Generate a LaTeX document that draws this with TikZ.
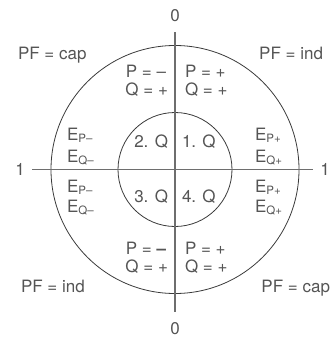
\documentclass[tikz,border=0pt]{standalone}
\usepackage{fontspec}
\setmainfont{TeX Gyre Heros}
\definecolor{txt}{HTML}{555555}
\definecolor{circ}{HTML}{3A3A3A}
\definecolor{axis}{HTML}{6E6E6E}
\newcommand{\mysub}[1]{\raisebox{-0.25ex}{\fontsize{11.5}{12}\selectfont #1}}
\begin{document}
\begin{tikzpicture}[x=1pt,y=-1pt,
  lbl/.style={inner sep=0pt,outer sep=0pt,text=txt,font=\fontsize{17}{20}\selectfont},
  ring/.style={draw=circ,line width=0.8pt,circle,inner sep=0pt},
  axisline/.style={draw=axis,line width=1.1pt}]
\useasboundingbox (0,0) rectangle (331,338);
\coordinate (O) at (175,169.5);
\node[ring,minimum size=248pt] (outer) at (O) {};
\node[ring,minimum size=114pt] (inner) at (O) {};
\coordinate (top) at (175,32);
\coordinate (bot) at (175,312);
\coordinate (lft) at (32,169.5);
\coordinate (rgt) at (313,169.5);
\draw[axisline] (top) -- (bot);
\draw[axisline] (lft) -- (rgt);
% axis labels
\node[lbl,anchor=base] (z1) at (175,21) {0};
\node[lbl,anchor=base] (z2) at (175,334.5) {0};
\node[lbl,anchor=base] (o1) at (20,175) {1};
\node[lbl,anchor=base] (o2) at (325,175) {1};
% PF labels
\node[lbl,anchor=base west] (pf1) at (18,59) {PF = cap};
\node[lbl,anchor=base east] (pf2) at (323,59) {PF = ind};
\node[lbl,anchor=base west] (pf3) at (21,292) {PF = ind};
\node[lbl,anchor=base east] (pf4) at (330,292) {PF = cap};
% P/Q top
\node[lbl,anchor=base east] (pq1) at (166,77) {P = –};
\node[lbl,anchor=base east] (pq2) at (168,95) {Q = +};
\node[lbl,anchor=base west] (pq3) at (185,77) {P = +};
\node[lbl,anchor=base west] (pq4) at (185,95) {Q = +};
% P/Q bottom
\node[lbl,anchor=base east] (pq5) at (166,254) {P = \textbf{–}};
\node[lbl,anchor=base east] (pq6) at (168,272) {Q = +};
\node[lbl,anchor=base west] (pq7) at (185,254) {P = +};
\node[lbl,anchor=base west] (pq8) at (185,272) {Q = +};
% quadrants
\node[lbl,anchor=base east] (q2) at (168,147) {2. Q};
\node[lbl,anchor=base west] (q1) at (182,147) {1. Q};
\node[lbl,anchor=base east] (q3) at (168,202) {3. Q};
\node[lbl,anchor=base west] (q4) at (182,202) {4. Q};
% energies
\node[lbl,anchor=base west] (e1) at (67,140) {E\mysub{P–}};
\node[lbl,anchor=base west] (e2) at (67,162) {E\mysub{Q–}};
\node[lbl,anchor=base west] (e3) at (67,192) {E\mysub{P–}};
\node[lbl,anchor=base west] (e4) at (67,212) {E\mysub{Q–}};
\node[lbl,anchor=base west] (e5) at (255,140) {E\mysub{P+}};
\node[lbl,anchor=base west] (e6) at (255,162) {E\mysub{Q+}};
\node[lbl,anchor=base west] (e7) at (255,192) {E\mysub{P+}};
\node[lbl,anchor=base west] (e8) at (255,212) {E\mysub{Q+}};
\end{tikzpicture}
\end{document}
